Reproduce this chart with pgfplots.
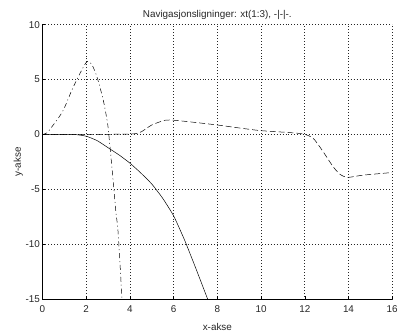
\documentclass[border=0pt]{standalone}
\usepackage{pgfplots}
\pgfplotsset{compat=1.18}
\usepackage{fontspec}
\setmainfont{Liberation Sans}
\begin{document}
\begin{tikzpicture}
\begin{axis}[
  at={(0,0)}, anchor=south west,
  scale only axis, width=354pt, height=278pt,
  xmin=0, xmax=16, ymin=-15, ymax=10,
  xtick={0,2,...,16}, ytick={-15,-10,-5,0,5,10},
  axis x line*=bottom, axis y line*=left,
  tick align=inside, major tick length=3pt,
  tick style={black, line width=0.4pt},
  axis line style={black, line width=0.5pt, -},
  grid=major, major grid style={black!85, line width=0.6pt, dash pattern=on 0.8pt off 2.2pt},
  /pgf/number format/assume math mode=true,
  tick label style={font=\fontsize{10}{11}\selectfont, black!85},
  label style={font=\fontsize{10}{11}\selectfont, black!85},
  title style={font=\fontsize{10}{11}\selectfont, black!85, yshift=-4pt},
  title={Navigasjonsligninger: xt(1:3), -|-|-.},
  xlabel={x-akse}, ylabel={y-akse},
  xlabel style={yshift=-4pt}, ylabel style={yshift=-4pt},
  xticklabel style={yshift=-3pt}, yticklabel style={xshift=1pt},
  clip=true,
]
\addplot[black, line width=0.5pt, smooth, tension=0.3] coordinates {
 (0,0) (1,0) (1.5,0) (2,-0.15) (2.5,-0.55) (3,-1.2) (3.5,-1.85) (4,-2.6)
 (4.5,-3.5) (5,-4.5) (5.5,-5.8) (6,-7.4) (6.5,-9.6) (7,-12.1) (7.56,-15) (7.7,-15.8)};
\addplot[black, line width=0.5pt, dash pattern=on 5pt off 3pt on 1pt off 3pt, smooth, tension=0.5] coordinates {
 (0,0) (0.2,0.15) (0.39,0.6) (0.92,2.1) (1.37,4.16) (1.82,5.96) (2.05,6.65) (2.25,6.4)
 (2.5,5.2) (2.8,2.96) (2.99,0.86) (3.03,0.1) (3.15,-2.4) (3.26,-4.8) (3.36,-7.1) (3.44,-8.4) (3.51,-10.5) (3.63,-14.7) (3.66,-15.5)};
\addplot[black, line width=0.5pt, dash pattern=on 6pt off 3pt, smooth, tension=0.4] coordinates {
 (0,0) (2,0) (3.94,0.05) (4.3,0.1) (4.54,0.27) (5.0,0.87) (5.6,1.3) (6.04,1.3) (7,1.1) (8.0,0.87)
 (9,0.6) (9.97,0.36) (11.3,0.18) (11.93,0.05) (12.38,-0.33) (12.83,-1.53) (13.28,-2.88)
 (13.6,-3.6) (13.95,-3.9) (14.65,-3.7) (15.85,-3.48) (16,-3.45)};
\end{axis}
\path[use as bounding box] (-43pt,-29pt) rectangle (358pt,303pt);
\end{tikzpicture}
\end{document}
